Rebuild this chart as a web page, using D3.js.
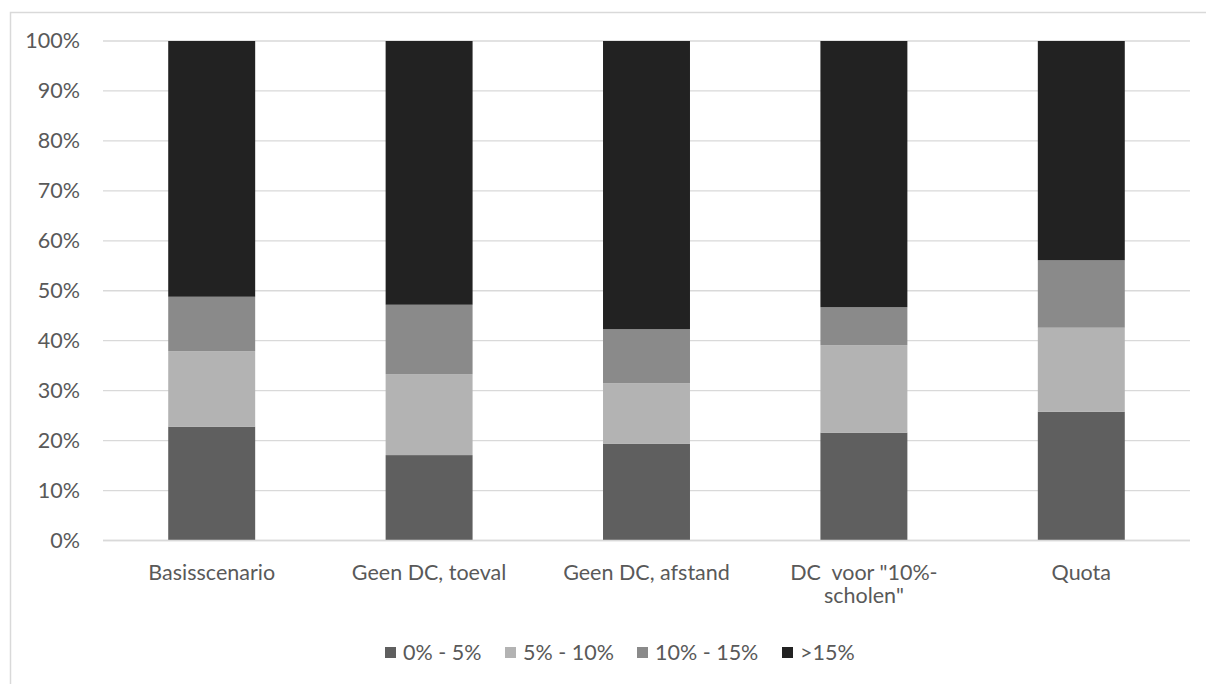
<!DOCTYPE html>
<html>
<head>
<meta charset="utf-8">
<script src="https://cdn.jsdelivr.net/npm/d3@7"></script>
<style>
  html, body { margin: 0; padding: 0; background: #fff; }
  svg text { font-family: Lato, "Open Sans", sans-serif; fill: #595959; white-space: pre; }
</style>
</head>
<body>
<svg id="chart" width="1206" height="684"></svg>
<script>
// Scenarios along the x axis
const categories = ["Basisscenario", "Geen DC, toeval", "Geen DC, afstand", "DC  voor \"10%-scholen\"", "Quota"];
// Stack series (share of pupils, %)
const seriesNames = ["0% - 5%", "5% - 10%", "10% - 15%", ">15%"];
const s0to5   = [22.8, 17.1, 19.4, 21.6, 25.8];
const s5to10  = [15.1, 16.2, 12.1, 17.5, 16.8];
const s10to15 = [10.9, 13.9, 10.8,  7.6, 13.5];
const sOver15 = [51.2, 52.8, 57.7, 53.3, 43.9];
const yTicks = [0, 10, 20, 30, 40, 50, 60, 70, 80, 90, 100];
const colors = ["#5f5f5f", "#b3b3b3", "#8a8a8a", "#222222"];

const fontSize = 21.5;

const rows = categories.map((c, i) => ({
  cat: c,
  [seriesNames[0]]: s0to5[i],
  [seriesNames[1]]: s5to10[i],
  [seriesNames[2]]: s10to15[i],
  [seriesNames[3]]: sOver15[i]
}));

const svg = d3.select("#chart");

// outer chart frame
svg.append("rect")
  .attr("x", 10.5).attr("y", 12.5)
  .attr("width", 1300).attr("height", 800)
  .attr("fill", "none").attr("stroke", "#d9d9d9").attr("stroke-width", 1.5);

const plotLeft = 103, plotRight = 1190, plotTop = 41, plotBottom = 540.5;

const x = d3.scaleBand().domain(categories).range([plotLeft, plotRight])
  .paddingInner(0.6).paddingOuter(0.3);
const y = d3.scaleLinear().domain([0, 100]).range([plotBottom, plotTop]);

// gridlines
svg.append("g").selectAll("line").data(yTicks).join("line")
  .attr("x1", plotLeft).attr("x2", plotRight)
  .attr("y1", d => y(d)).attr("y2", d => y(d))
  .attr("stroke", "#d9d9d9").attr("stroke-width", 1.3);

// y axis labels
const yAxis = svg.append("g").attr("transform", `translate(${plotLeft},0)`)
  .call(d3.axisLeft(y).tickValues(yTicks).tickFormat(d => d + "%").tickSize(0).tickPadding(23));
yAxis.select(".domain").remove();
yAxis.selectAll("text").attr("font-size", fontSize).style("font-family", "Lato, sans-serif").attr("fill", "#595959");

// stacked bars
const stack = d3.stack().keys(seriesNames)(rows);
svg.append("g").selectAll("g").data(stack).join("g")
  .attr("fill", (d, i) => colors[i])
  .selectAll("rect").data(d => d).join("rect")
  .attr("x", d => x(d.data.cat))
  .attr("width", x.bandwidth())
  .attr("y", d => y(d[1]))
  .attr("height", d => y(d[0]) - y(d[1]));

// x axis baseline
svg.append("line").attr("x1", plotLeft).attr("x2", plotRight)
  .attr("y1", plotBottom).attr("y2", plotBottom)
  .attr("stroke", "#d9d9d9").attr("stroke-width", 1.5);

// x axis labels, wrapped after a hyphen when too wide
const xAxis = svg.append("g").attr("transform", `translate(0,${plotBottom})`)
  .call(d3.axisBottom(x).tickSize(0).tickPadding(24));
xAxis.select(".domain").remove();
xAxis.selectAll("text").attr("font-size", fontSize).style("font-family", "Lato, sans-serif").attr("fill", "#595959")
  .each(function(d) {
    const t = d3.select(this);
    const i = d.indexOf("-");
    if (i > 0 && this.getComputedTextLength() > 200) {
      const dy = t.attr("dy");
      t.text(null);
      t.append("tspan").attr("x", 0).attr("dy", dy).text(d.slice(0, i + 1));
      t.append("tspan").attr("x", 0).attr("dy", "1.1em").text(d.slice(i + 1));
    }
  });

// legend
const legend = svg.append("g").attr("transform", "translate(0,652)");
const legendX = [385, 505, 637, 782];
const items = legend.selectAll("g").data(seriesNames).join("g")
  .attr("transform", (d, i) => `translate(${legendX[i]},0)`);
items.append("rect").attr("x", 0).attr("y", -5).attr("width", 11).attr("height", 11)
  .attr("fill", (d, i) => colors[i]);
items.append("text").attr("x", 18).attr("y", 0).attr("dy", "0.35em")
  .attr("font-size", fontSize).text(d => d);
</script>
</body>
</html>
